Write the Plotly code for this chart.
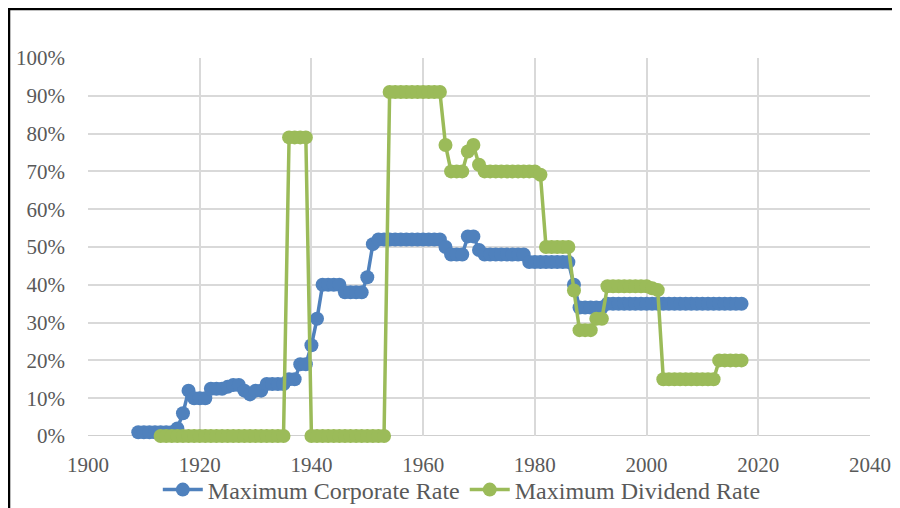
import plotly.graph_objects as go

corp_years = list(range(1909, 2018))
corp_rate = [1, 1, 1, 1, 1, 1, 1, 2, 6, 12,            # 1909-1918
             10, 10, 10, 12.5, 12.5, 12.5, 13, 13.5, 13.5, 12,  # 1919-1928
             11, 12, 12, 13.75, 13.75, 13.75, 13.75, 15, 15, 19,  # 1929-1938
             19, 24, 31, 40, 40, 40, 40, 38, 38, 38,     # 1939-1948
             38, 42, 50.75, 52, 52, 52, 52, 52, 52, 52,  # 1949-1958
             52, 52, 52, 52, 52, 50, 48, 48, 48, 52.8,   # 1959-1968
             52.8, 49.2, 48, 48, 48, 48, 48, 48, 48, 48, # 1969-1978
             46, 46, 46, 46, 46, 46, 46, 46, 40, 34,     # 1979-1988
             34, 34, 34, 34, 35, 35, 35, 35, 35, 35,     # 1989-1998
             35, 35, 35, 35, 35, 35, 35, 35, 35, 35,     # 1999-2008
             35, 35, 35, 35, 35, 35, 35, 35, 35]         # 2009-2017

div_years = list(range(1913, 2018))
div_rate = [0, 0, 0, 0, 0, 0, 0, 0, 0, 0,               # 1913-1922
            0, 0, 0, 0, 0, 0, 0, 0, 0, 0,               # 1923-1932
            0, 0, 0, 79, 79, 79, 79, 0, 0, 0,           # 1933-1942
            0, 0, 0, 0, 0, 0, 0, 0, 0, 0,               # 1943-1952
            0, 91, 91, 91, 91, 91, 91, 91, 91, 91,      # 1953-1962
            91, 77, 70, 70, 70, 75.25, 77, 71.75, 70, 70,  # 1963-1972
            70, 70, 70, 70, 70, 70, 70, 70, 69.13, 50,  # 1973-1982
            50, 50, 50, 50, 38.5, 28, 28, 28, 31, 31,   # 1983-1992
            39.6, 39.6, 39.6, 39.6, 39.6, 39.6, 39.6, 39.6, 39.1, 38.6,  # 1993-2002
            15, 15, 15, 15, 15, 15, 15, 15, 15, 15,     # 2003-2012
            20, 20, 20, 20, 20]                         # 2013-2017

names = ["Maximum Corporate Rate", "Maximum Dividend Rate"]
colors = ["#4F81BD", "#9BBB59"]

FONT = "Liberation Serif"
GREY = "#595959"

fig = go.Figure()
for name, xs, ys, c in [(names[0], corp_years, corp_rate, colors[0]),
                        (names[1], div_years, div_rate, colors[1])]:
    fig.add_trace(go.Scatter(
        x=xs, y=ys, name=name, mode="lines+markers",
        line=dict(color=c, width=3.5),
        marker=dict(color=c, size=14, line=dict(width=0)),
        cliponaxis=False,
    ))

# the page body adds an 8px offset, so the figure is 892x500 placed at (8,8)
fig.update_layout(
    width=892, height=500,
    margin=dict(l=80, r=30, t=50, b=72, autoexpand=False),
    paper_bgcolor="white", plot_bgcolor="white",
    font=dict(family=FONT, size=21, color=GREY),
    showlegend=True,
    legend=dict(orientation="h", x=0.478, xanchor="center",
                yref="container", y=0.036, yanchor="middle",
                font=dict(family=FONT, size=24, color=GREY),
                itemwidth=40,
                tracegroupgap=0, bgcolor="rgba(0,0,0,0)"),
    xaxis=dict(range=[1900, 2040], dtick=20, tick0=1900, showgrid=True,
               gridcolor="#D9D9D9", gridwidth=1.5, zeroline=False,
               showline=False, ticks="", ticklabelstandoff=14,
               tickfont=dict(family=FONT, size=21, color=GREY)),
    yaxis=dict(range=[0, 100], dtick=10, ticksuffix="%", showgrid=True,
               gridcolor="#D9D9D9", gridwidth=1.5, zeroline=False,
               showline=False, ticks="", ticklabelstandoff=22,
               tickfont=dict(family=FONT, size=21, color=GREY)),
)

# x-axis baseline (slightly darker) at 0%
fig.add_shape(type="line", xref="paper", yref="y", x0=0, x1=1, y0=0, y1=0,
              line=dict(color="#BFBFBF", width=1.5), layer="below")
# chart frame (left and top edges visible)
fig.add_shape(type="rect", xref="paper", yref="paper",
              x0=-0.1010, x1=1.2, y0=-0.5, y1=1.1295,
              line=dict(color="black", width=2.5), fillcolor="rgba(0,0,0,0)")

fig.write_html("out.html")
